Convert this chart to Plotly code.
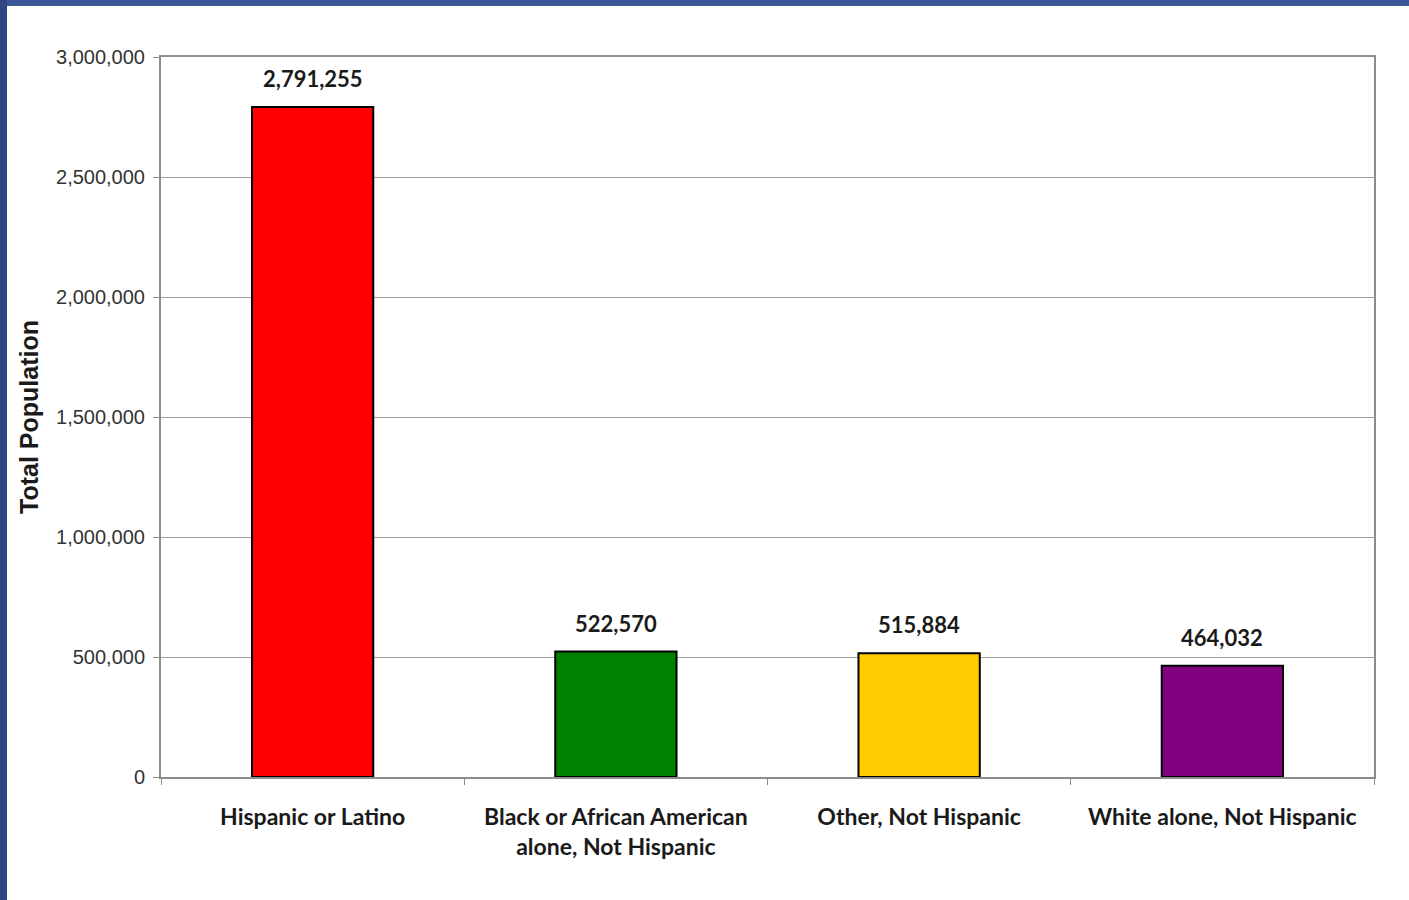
import plotly.graph_objects as go

categories = ["Hispanic or Latino", "Black or African American<br>alone, Not Hispanic",
              "Other, Not Hispanic", "White alone, Not Hispanic"]
values = [2791255, 522570, 515884, 464032]
colors = ["#FF0000", "#008000", "#FFCC00", "#800080"]
y_ticks = [0, 500000, 1000000, 1500000, 2000000, 2500000, 3000000]

W, H = 1409, 900
L, R, T, B = 161, 35, 57, 123
PW, PH = W - L - R, H - T - B

fig = go.Figure()
fig.add_trace(go.Bar(
    x=categories, y=values,
    marker=dict(color=colors, line=dict(color="#000000", width=2)),
    width=0.4,
    cliponaxis=False,
    hoverinfo="skip",
))

for c, v in zip(categories, values):
    fig.add_annotation(x=c, y=v, text=f"{v:,}", showarrow=False,
                       yanchor="bottom", yshift=13,
                       font=dict(family="Lato", size=22, color="#1a1a1a", weight="bold"))

fig.update_layout(
    width=W, height=H,
    margin=dict(l=L, r=R, t=T, b=B),
    paper_bgcolor="white", plot_bgcolor="white",
    showlegend=False,
    xaxis=dict(
        showline=True, linecolor="#8c8c8c", linewidth=2, mirror=True,
        ticks="outside", tickson="boundaries", ticklen=6, tickcolor="#8c8c8c", tickwidth=1,
        tickfont=dict(family="Lato", size=23, color="#1a1a1a", weight="bold"),
        ticklabelstandoff=18,
        showgrid=False,
    ),
    yaxis=dict(
        range=[0, 3000000], tickvals=y_ticks,
        tickformat=",d",
        showline=True, linecolor="#8c8c8c", linewidth=2, mirror=True,
        ticks="outside", ticklen=6, tickcolor="#8c8c8c",
        tickfont=dict(family="Liberation Sans", size=20, color="#333333"),
        ticklabelstandoff=4,
        showgrid=True, gridcolor="#a0a0a0", gridwidth=1,
        title=dict(text="Total Population", standoff=10,
                   font=dict(family="Liberation Sans", size=25, color="#1a1a1a", weight="bold")),
        zeroline=False,
    ),
    shapes=[
        dict(type="rect", xref="paper", yref="paper",
             x0=-L / PW, x1=1 + R / PW, y0=1 + (T - 6) / PH, y1=1 + T / PH,
             fillcolor="#3b5898", line=dict(width=0), layer="above"),
        dict(type="rect", xref="paper", yref="paper",
             x0=-L / PW, x1=-(L - 7) / PW, y0=-B / PH, y1=1 + T / PH,
             fillcolor="#2e4782", line=dict(width=0), layer="above"),
    ],
)

fig.write_html("out.html", config={"displayModeBar": False},
               post_script="document.body.style.margin='0';document.body.style.padding='0';")
